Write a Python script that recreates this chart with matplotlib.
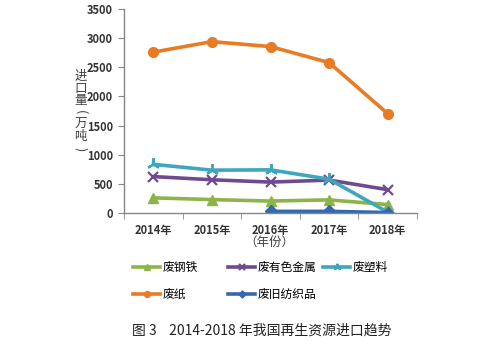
import matplotlib.pyplot as plt
from matplotlib.ticker import FixedLocator

plt.rcParams['font.family'] = ['Noto Sans CJK SC', 'DejaVu Sans']

years = ['2014年', '2015年', '2016年', '2017年', '2018年']
steel = [260, 230, 205, 225, 145]
nonferrous = [625, 570, 530, 565, 400]
plastic = [835, 735, 740, 580, 15]
paper = [2760, 2940, 2855, 2580, 1705]
textile_years = [2, 3, 4]
textile = [28, 28, 8]

fig = plt.figure(figsize=(4.99, 3.46), dpi=100)
ax = fig.add_axes([0.2485, 0.3844, 0.5872, 0.5896])

x = list(range(len(years)))
lw = 2.6
h_steel, = ax.plot(x, steel, color='#8DB448', lw=lw, marker='^', ms=7, label='废钢铁')
h_nonf, = ax.plot(x, nonferrous, color='#6E4A8E', lw=lw, marker='x', ms=7, mew=1.6, label='废有色金属')
h_plas, = ax.plot(x, plastic, color='#3FA6BD', lw=lw, marker=(3, 2, 0), ms=9, mew=1.6, label='废塑料')
h_paper, = ax.plot(x, paper, color='#E87B24', lw=lw, marker='o', ms=7, label='废纸')
h_tex, = ax.plot(textile_years, textile, color='#3469B0', lw=lw, marker='D', ms=6, label='废旧纺织品')

ax.set_xlim(-0.5, 4.5)
ax.set_ylim(0, 3500)
ax.set_yticks(range(0, 3501, 500))
ax.set_xticks(x)
ax.set_xticklabels(years)
ax.xaxis.set_minor_locator(FixedLocator([i - 0.5 for i in range(6)]))
ax.tick_params(axis='x', which='major', length=0, pad=8, labelsize=8)
ax.tick_params(axis='x', which='minor', length=4, color='#868686')
ax.tick_params(axis='y', length=4, color='#868686', labelsize=8, pad=4)
for lab in ax.get_yticklabels() + ax.get_xticklabels():
    lab.set_fontweight('bold')
    lab.set_color('#333333')
for s in ['top', 'right']:
    ax.spines[s].set_visible(False)
for s in ['left', 'bottom']:
    ax.spines[s].set_color('#868686')
    ax.spines[s].set_linewidth(1.0)

# vertical y label, one character per line
ylabel_chars = ['进', '口', '量', '(', '万', '吨', ')']
for i, ch in enumerate(ylabel_chars):
    y = 1 - (76 + i * 12.2) / 346
    rot = -90 if ch in '()' else 0
    fig.text(0.162, y, ch, ha='center', va='center', fontsize=9, color='#404040', rotation=rot)

fig.text(0.54, 0.30, '（年份）', ha='center', va='center', fontsize=9, color='#404040')

leg_kw = dict(frameon=False, fontsize=8.5, handlelength=2.3, handletextpad=0.25,
              labelspacing=1.2, borderaxespad=0, borderpad=0, markerscale=0.6,
              loc='upper left')
legend_cols = [([h_steel, h_paper], 133), ([h_nonf, h_tex], 228), ([h_plas], 323)]
for hs, px in legend_cols:
    fig.legend(handles=hs, labels=[h.get_label() for h in hs],
               bbox_to_anchor=(px / 499, 1 - 261 / 346), **leg_kw)

fig.text(0.525, 0.045, '图 3    2014-2018 年我国再生资源进口趋势', ha='center', va='center',
         fontsize=10, color='#222222')

fig.savefig('out.png', dpi=100)
